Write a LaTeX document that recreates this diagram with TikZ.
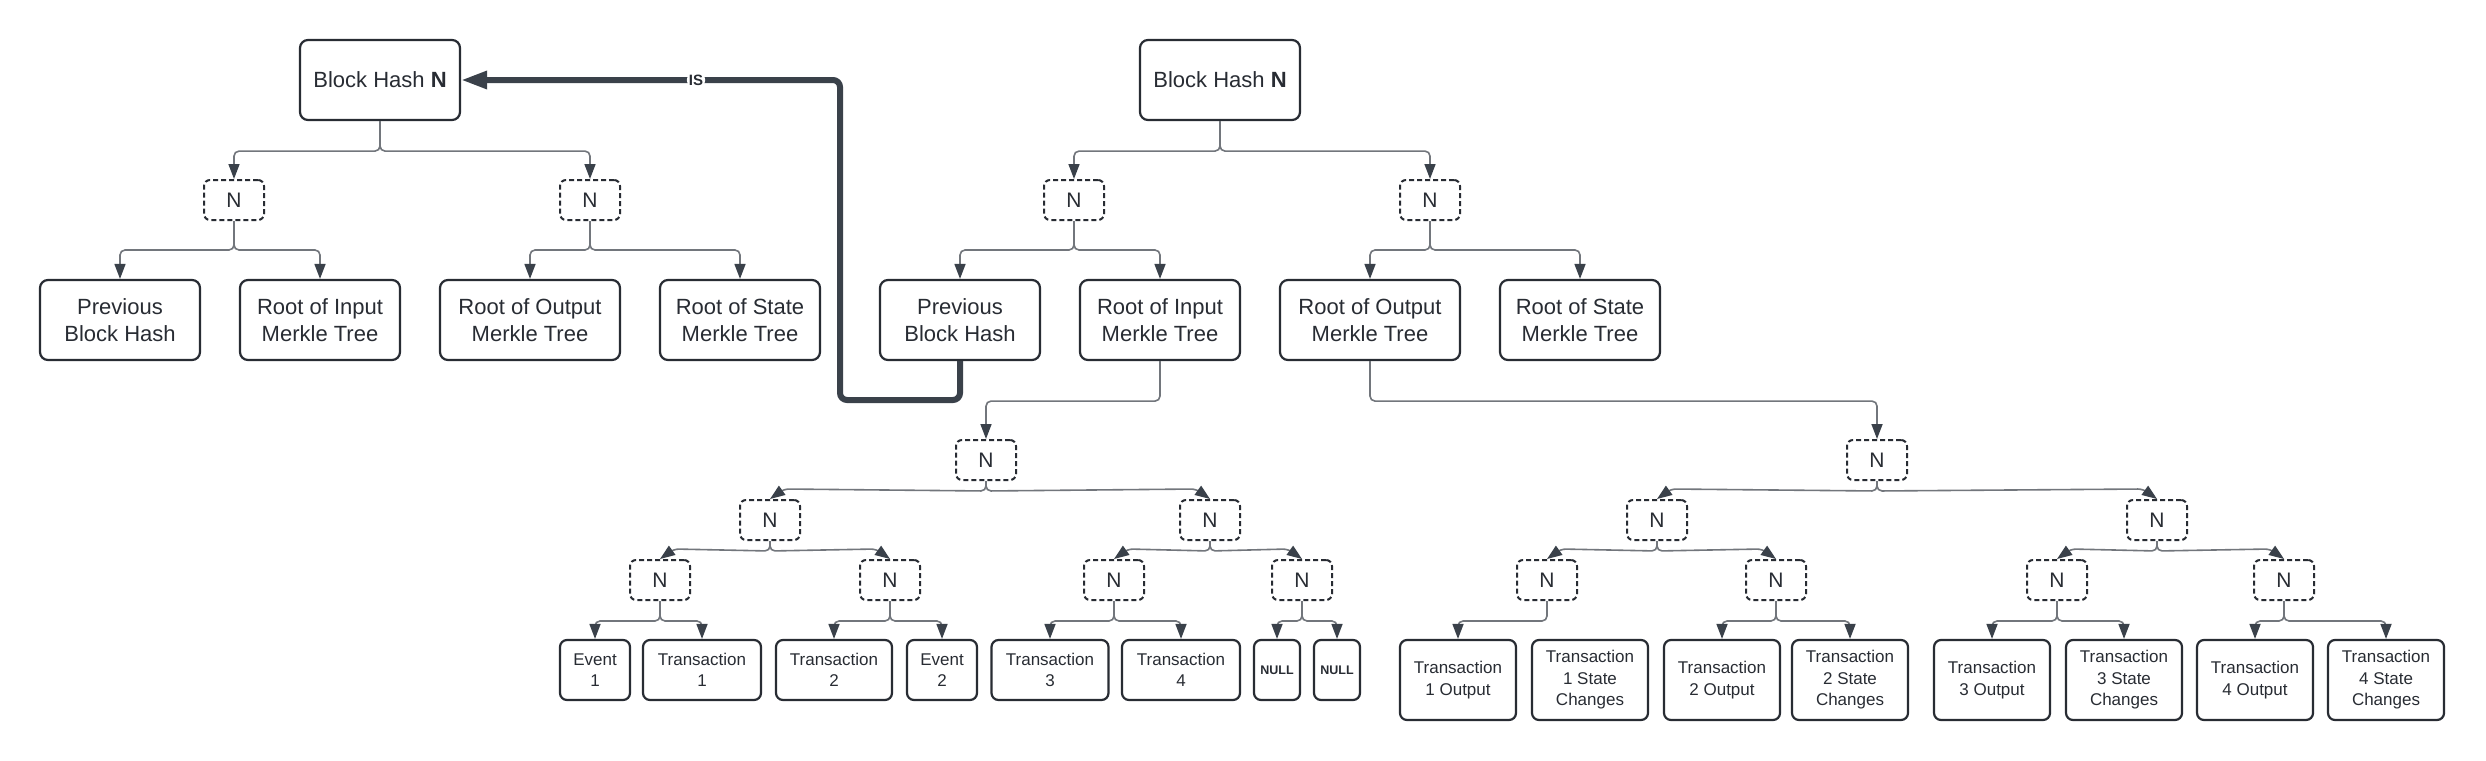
\documentclass[tikz,border=0pt]{standalone}
\usepackage{fontspec}
\setmainfont{Liberation Sans}
\usetikzlibrary{arrows.meta}
\definecolor{ink}{HTML}{282C33}
\definecolor{edge}{HTML}{3A414A}
\definecolor{wire}{HTML}{72767C}

\begin{document}
\begin{tikzpicture}[x=1pt, y=-1pt,
	every node/.style={text=ink, inner sep=0pt, align=center},
	box/.style={draw=ink, line width=2.2pt, rounded corners=8pt, minimum width=160pt, minimum height=80pt, font=\fontsize{22}{26.5}\selectfont},
	nbox/.style={draw=ink, line width=2pt, dash pattern=on 5pt off 3pt, rounded corners=6pt, minimum width=60pt, minimum height=40pt, font=\fontsize{21}{25}\selectfont},
	leaf/.style={draw=ink, line width=2.2pt, rounded corners=7pt, minimum height=60pt, font=\fontsize{17}{21.5}\selectfont},
	tall/.style={leaf, minimum width=116pt, minimum height=80pt},
	nullbox/.style={leaf, minimum width=46pt, font=\bfseries\fontsize{12.5}{15}\selectfont},
	conn/.style={draw=wire, line width=1.6pt, rounded corners=5pt, -{Triangle[length=15pt, width=11pt, color=edge]}},
	islink/.style={draw=edge, line width=6pt, rounded corners=7pt, -{Triangle[length=26pt, width=17pt]}},
	islabel/.style={fill=white, inner sep=2pt, font=\bfseries\fontsize{15}{17}\selectfont}]
	\fill[white] (0,0) rectangle (2486,760);

	% the two block headers (right one is shifted copy)
	\foreach \t/\dx in {L/0, R/840} {
		\node[box] (bh\t) at (380+\dx,80) {Block Hash \textbf{N}};
		\node[nbox] (na\t) at (234+\dx,200) {N};
		\node[nbox] (nb\t) at (590+\dx,200) {N};
		\node[box] (prev\t) at (120+\dx,320) {Previous\\Block Hash};
		\node[box] (in\t) at (320+\dx,320) {Root of Input\\Merkle Tree};
		\node[box, minimum width=180pt] (out\t) at (530+\dx,320) {Root of Output\\Merkle Tree};
		\node[box] (st\t) at (740+\dx,320) {Root of State\\Merkle Tree};
		\foreach \p/\c in {bh/na, bh/nb}
			\draw[conn] (\p\t.south) -- ++(0,30) -| (\c\t.north);
		\foreach \p/\c in {na/prev, na/in, nb/out, nb/st}
			\draw[conn] (\p\t.south) -- ++(0,29) -| (\c\t.north);
	}

	% input merkle tree
	\node[nbox] (i0) at (986,460) {N};
	\node[nbox] (i1) at (770,520) {N};
	\node[nbox] (i2) at (1210,520) {N};
	\node[nbox] (i11) at (660,580) {N};
	\node[nbox] (i12) at (890,580) {N};
	\node[nbox] (i21) at (1114,580) {N};
	\node[nbox] (i22) at (1302,580) {N};
	\node[leaf, minimum width=70pt] (ev1) at (595,670) {Event\\1};
	\node[leaf, minimum width=118pt] (tx1) at (702,670) {Transaction\\1};
	\node[leaf, minimum width=116pt] (tx2) at (834,670) {Transaction\\2};
	\node[leaf, minimum width=70pt] (ev2) at (942,670) {Event\\2};
	\node[leaf, minimum width=117pt] (tx3) at (1050,670) {Transaction\\3};
	\node[leaf, minimum width=118pt] (tx4) at (1181,670) {Transaction\\4};
	\node[nullbox] (nu1) at (1277,670) {NULL};
	\node[nullbox] (nu2) at (1337,670) {NULL};

	\draw[conn] (inR.south) -- ++(0,40) -| (i0.north);
	% short drops: slanted tips (\s = side of the child)
	\foreach \p/\c/\s in {i0/i1/1, i0/i2/-1, i1/i11/1, i1/i12/-1, i2/i21/1, i2/i22/-1}
		\draw[conn] (\p.south) -- ++(0,10) -- ([xshift=\s*14pt, yshift=10pt]\c.north) -- (\c.north);
	\foreach \p/\c in {i11/ev1, i11/tx1, i12/tx2, i12/ev2, i21/tx3, i21/tx4, i22/nu1, i22/nu2}
		\draw[conn] (\p.south) -- ++(0,20) -| (\c.north);

	% output merkle tree
	\node[nbox] (o0) at (1877,460) {N};
	\node[nbox] (o1) at (1657,520) {N};
	\node[nbox] (o2) at (2157,520) {N};
	\node[nbox] (o11) at (1547,580) {N};
	\node[nbox] (o12) at (1776,580) {N};
	\node[nbox] (o21) at (2057,580) {N};
	\node[nbox] (o22) at (2284,580) {N};
	\node[tall] (to1) at (1458,680) {Transaction\\1 Output};
	\node[tall] (ts1) at (1590,680) {Transaction\\1 State\\Changes};
	\node[tall] (to2) at (1722,680) {Transaction\\2 Output};
	\node[tall] (ts2) at (1850,680) {Transaction\\2 State\\Changes};
	\node[tall] (to3) at (1992,680) {Transaction\\3 Output};
	\node[tall] (ts3) at (2124,680) {Transaction\\3 State\\Changes};
	\node[tall] (to4) at (2255,680) {Transaction\\4 Output};
	\node[tall] (ts4) at (2386,680) {Transaction\\4 State\\Changes};

	\draw[conn] (outR.south) -- ++(0,40) -| (o0.north);
	\foreach \p/\c/\s in {o0/o1/1, o0/o2/-1, o1/o11/1, o1/o12/-1, o2/o21/1, o2/o22/-1}
		\draw[conn] (\p.south) -- ++(0,10) -- ([xshift=\s*14pt, yshift=10pt]\c.north) -- (\c.north);
	\foreach \p/\c in {o11/to1, o12/to2, o12/ts2, o21/to3, o21/ts3, o22/to4, o22/ts4}
		\draw[conn] (\p.south) -- ++(0,20) -| (\c.north);

	% previous block hash IS the older block
	\coordinate (isbend) at (840,400);
	\draw[islink] (prevR.south) |- (isbend) |- node[pos=0.69, islabel] {IS} (bhL.east);
\end{tikzpicture}
\end{document}
